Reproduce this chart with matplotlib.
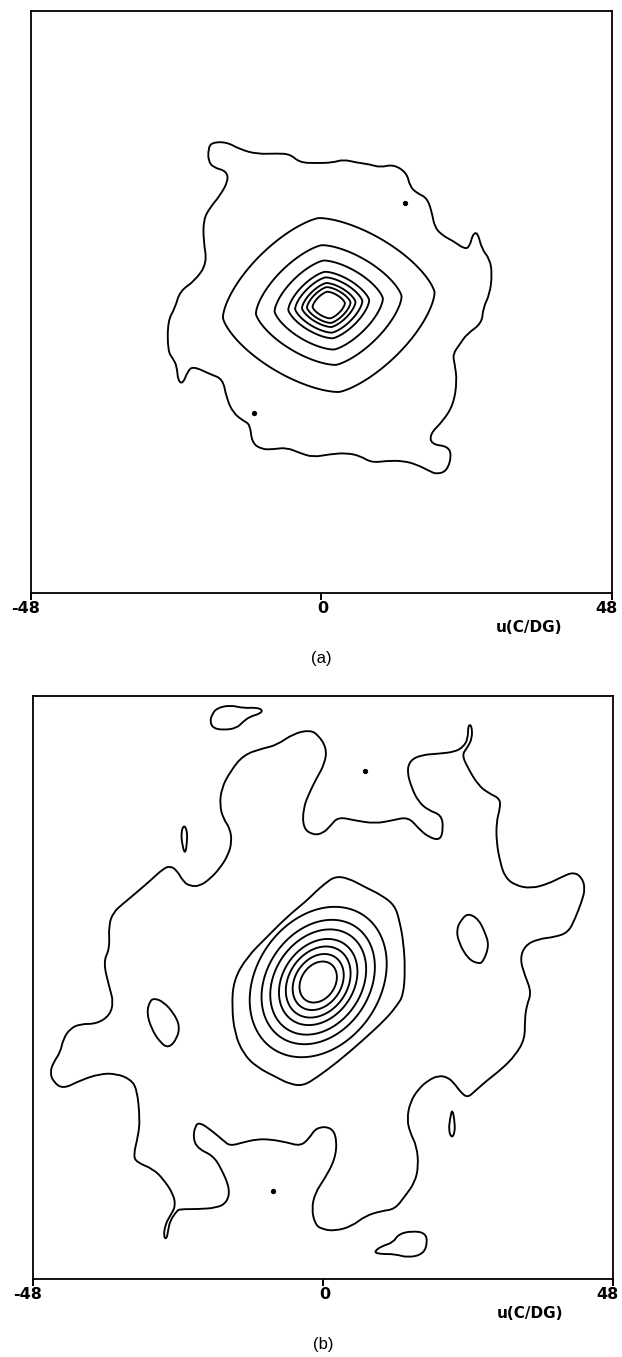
import numpy as np
import matplotlib
matplotlib.use("Agg")
import matplotlib.pyplot as plt
from matplotlib.path import Path
from matplotlib.patches import PathPatch
from matplotlib.transforms import ScaledTranslation

# both panels share the same u/v range
LIM = 48
TICKS = [-48, 0, 48]
TICK_LABELS = ["-48", "0", "48"]
AXIS_LABEL = "u(C/DG)"

# ---- panel (a) ----
# nested contours around the peak: centre and half widths along u
a_center = (1.2, -0.5)
a_radii = [2.6, 3.5, 4.3, 5.4, 6.5, 8.7, 11.7, 17.0]
# lowest contour, traced
a_outer_u = [-18.2, -15.7, -13.5, -10.7, -7.4, -5.2, -3.6, -0.8, 1.9, 3.6,
             5.8, 8.0, 9.7, 11.9, 14.1, 14.6, 15.7, 17.4, 18.2, 18.7,
             20.1, 21.7, 23.7, 24.5, 25.0, 25.8, 26.5, 27.8, 28.2, 27.8,
             26.7, 26.5, 24.0, 22.9, 21.7, 22.0, 22.4, 21.8, 20.1, 17.9,
             18.2, 20.9, 21.5, 20.7, 19.0, 17.9, 15.7, 13.5, 10.8, 8.3,
             6.4, 4.2, 1.4, -1.4, -3.6, -5.8, -8.0, -9.9, -11.5, -11.8,
             -12.9, -14.6, -15.7, -16.3, -18.4, -21.2, -22.1, -22.9, -23.7, -23.9,
             -24.5, -25.4, -25.4, -24.2, -23.4, -20.9, -18.9, -19.5, -19.5, -18.4,
             -16.8, -15.4, -15.7, -17.9, -18.7, -18.7]
a_outer_v = [26.3, 26.4, 25.2, 24.4, 24.5, 24.4, 23.0, 22.9, 23.0, 23.5,
             23.0, 22.7, 22.2, 22.7, 21.3, 19.1, 18.0, 17.2, 15.0, 12.3,
             10.9, 10.1, 8.7, 9.2, 11.2, 11.5, 8.7, 7.1, 4.6, 1.3,
             -1.0, -3.5, -5.3, -6.9, -8.6, -10.2, -13.0, -16.9, -19.6, -21.8,
             -23.5, -23.8, -25.4, -27.9, -28.4, -27.9, -26.8, -26.2, -26.2, -26.5,
             -25.4, -24.9, -25.1, -25.6, -24.9, -24.0, -24.3, -24.3, -23.2, -20.2,
             -19.6, -18.3, -15.8, -12.7, -11.9, -10.6, -11.4, -13.5, -13.0, -10.6,
             -9.4, -8.1, -3.1, -1.0, 1.8, 3.5, 6.4, 10.1, 13.6, 15.6,
             17.5, 20.0, 21.6, 22.2, 23.3, 25.2]
a_dots_u = [13.8, -11.2]
a_dots_v = [16.3, -18.3]

# ---- panel (b) ----
b_center = (-0.8, 0.9)
b_radii = [3.0, 4.1, 5.2, 6.3, 7.7, 9.1, 11.0]
# outermost closed contour of the peak, traced
b_ring_u = [-1.3, 0.3, 2.0, 4.2, 7.0, 9.7, 11.9, 12.7, 13.3, 13.6,
            13.3, 12.2, 10.5, 6.6, 2.5, -1.0, -3.3, -5.5, -7.7, -11.0,
            -13.2, -14.6, -15.1, -14.8, -12.6, -9.3, -6.0, -2.7]
b_ring_v = [15.7, 17.1, 18.3, 18.0, 16.5, 15.2, 13.5, 10.8, 7.5, 3.1,
            -1.3, -3.0, -5.1, -8.7, -12.2, -14.8, -16.2, -15.9, -14.8, -13.1,
            -10.9, -7.6, -3.2, 1.2, 5.0, 8.3, 11.6, 14.3]
# lowest contour, traced
b_outer_u = [-35.3, -36.4, -35.3, -35.5, -34.7, -33.1, -30.8, -28.6, -26.4, -25.3,
             -24.2, -23.1, -22.0, -20.4, -18.7, -17.1, -15.7, -15.1, -15.4, -16.5,
             -17.1, -16.8, -15.4, -13.2, -9.9, -7.7, -4.9, -2.2, -0.8, 0.6,
             0.3, -1.1, -2.2, -3.3, -3.3, -1.6, 0.0, 1.2, 2.5, 5.3,
             8.6, 11.4, 14.1, 15.8, 17.4, 19.4, 19.9, 19.6, 17.4, 15.8,
             14.7, 13.9, 14.4, 16.3, 19.1, 21.8, 23.2, 24.0, 24.0, 24.6,
             24.7, 23.8, 23.0, 24.0, 25.7, 27.4, 29.3, 29.3, 28.7, 28.7,
             29.3, 30.1, 31.8, 34.5, 37.3, 39.5, 41.4, 42.8, 43.4, 42.8,
             41.7, 40.6, 38.4, 35.6, 33.4, 32.6, 33.4, 34.5, 33.7, 33.4,
             33.4, 31.8, 29.6, 27.4, 25.2, 24.0, 23.0, 21.8, 20.7, 19.1,
             17.4, 15.8, 14.4, 13.9, 14.4, 15.5, 15.8, 15.2, 13.6, 11.9,
             9.7, 7.0, 4.8, 2.0, -0.2, -1.3, -1.9, -1.3, 0.2, 2.0,
             2.3, 1.4, -1.1, -2.4, -3.8, -6.0, -8.8, -11.0, -13.2, -15.4,
             -16.5, -18.4, -20.4, -21.2, -21.5, -20.6, -18.2, -16.8, -15.4, -15.9,
             -17.6, -20.9, -23.7, -24.2, -25.3, -25.6, -25.9, -26.4, -26.1, -25.3,
             -24.4, -24.8, -26.4, -28.1, -30.8, -31.4, -30.6, -30.3, -30.8, -31.9,
             -34.2, -36.9, -40.2, -43.0, -44.6, -45.2, -44.6, -43.5, -43.0, -41.9,
             -40.2, -37.5, -35.3, -34.7]
b_outer_v = [-0.2, 4.2, 6.4, 10.2, 12.4, 13.8, 15.7, 17.6, 19.6, 20.0,
             19.3, 17.4, 16.7, 16.7, 17.9, 19.6, 21.8, 24.0, 26.2, 27.8,
             30.0, 32.8, 35.5, 38.3, 39.4, 39.9, 41.8, 42.4, 41.6, 39.4,
             36.9, 34.4, 32.2, 29.5, 26.2, 25.1, 25.4, 26.6, 28.1, 27.5,
             27.0, 27.5, 28.1, 26.2, 24.8, 24.2, 26.2, 28.4, 29.2, 30.6,
             32.8, 35.5, 37.4, 38.3, 38.5, 38.8, 39.6, 41.0, 43.2, 43.2,
             41.0, 39.4, 38.3, 36.1, 33.3, 32.0, 31.1, 29.5, 27.3, 24.0,
             20.7, 18.2, 16.8, 16.3, 17.1, 18.2, 19.0, 18.2, 16.3, 14.1,
             11.3, 9.1, 8.3, 8.0, 6.9, 4.7, 2.0, -0.8, -3.0, -5.2,
             -8.5, -11.2, -13.4, -15.1, -17.0, -18.1, -17.5, -15.9, -14.8, -14.5,
             -15.3, -16.7, -18.9, -21.7, -23.9, -26.1, -29.4, -32.1, -34.3, -36.5,
             -36.8, -37.6, -39.3, -40.1, -39.8, -39.0, -36.5, -33.8, -31.6, -28.3,
             -25.0, -23.0, -23.0, -25.0, -26.1, -25.5, -25.0, -25.0, -25.5, -26.1,
             -25.2, -23.6, -22.2, -22.8, -25.0, -26.6, -27.7, -29.9, -33.2, -35.4,
             -36.3, -36.5, -36.5, -36.8, -38.4, -39.8, -41.5, -41.0, -39.0, -37.6,
             -36.0, -34.0, -31.6, -29.9, -28.8, -27.7, -24.4, -21.7, -16.7, -15.1,
             -14.2, -14.2, -15.3, -16.7, -15.6, -14.0, -12.3, -10.7, -8.5, -6.8,
             -6.0, -6.0, -4.6, -2.4]
# small closed contours
b_top_u = [-18.4, -17.6, -15.4, -13.2, -11.0, -10.0, -10.4, -12.1, -13.2, -14.3, -16.5, -18.2, -18.7]
b_top_v = [44.9, 46.0, 46.5, 46.0, 46.1, 45.7, 45.1, 44.6, 43.8, 42.7, 42.4, 42.7, 43.8]
b_thin1_u = [-23.0, -22.5, -22.5, -22.8, -23.3, -23.5]
b_thin1_v = [26.8, 25.8, 24.0, 21.9, 23.4, 25.6]
b_hole_left_u = [-27.8, -26.4, -24.8, -23.7, -24.2, -25.6, -27.0, -28.4, -29.2, -28.6]
b_hole_left_v = [-1.8, -2.4, -4.1, -6.3, -8.5, -10.0, -9.0, -6.8, -4.1, -2.1]
b_hole_right_u = [24.0, 25.7, 26.8, 27.5, 26.5, 25.7, 24.0, 22.4, 22.1, 23.0]
b_hole_right_v = [12.2, 11.3, 9.1, 6.9, 4.2, 3.9, 4.7, 7.5, 9.7, 11.3]
b_thin2_u = [21.4, 21.8, 21.8, 21.3, 20.8, 21.0]
b_thin2_v = [-19.9, -22.2, -23.9, -24.8, -23.6, -21.7]
b_bottom_u = [8.6, 9.7, 11.6, 12.5, 14.7, 16.9, 17.3, 16.6, 14.1, 11.9, 9.7, 8.7]
b_bottom_v = [-43.4, -42.6, -42.0, -40.6, -40.1, -40.4, -42.0, -43.9, -44.5, -43.9, -43.9, -43.7]
b_dots_u = [7.0, -8.2]
b_dots_v = [35.6, -33.5]

LW = 1.35


def shape_dist(X, Y, center, ang, ratio, p):
    # rotated super-ellipse distance, scaled to the half width along u
    t = np.deg2rad(ang)
    dx, dy = X - center[0], Y - center[1]
    u = dx * np.cos(t) + dy * np.sin(t)
    v = -dx * np.sin(t) + dy * np.cos(t)
    d = (np.abs(u) ** p + np.abs(v / ratio) ** p) ** (1 / p)
    d0 = (abs(np.cos(t)) ** p + abs(np.sin(t) / ratio) ** p) ** (1 / p)
    return d / d0


def loop_path(u, v):
    # closed curve through the traced points (quadratic bezier pieces)
    pts = np.column_stack([u, v])
    mids = (pts + np.roll(pts, -1, axis=0)) / 2
    verts = [mids[-1]]
    codes = [Path.MOVETO]
    for i in range(len(pts)):
        verts += [pts[i], mids[i]]
        codes += [Path.CURVE3, Path.CURVE3]
    return Path(verts, codes)


def draw_loop(ax, u, v):
    ax.add_patch(PathPatch(loop_path(u, v), fill=False, edgecolor="black",
                           lw=LW, joinstyle="round"))


def setup(ax, label):
    ax.set_xlim(-LIM, LIM)
    ax.set_ylim(-LIM, LIM)
    ax.set_xticks(TICKS)
    ax.set_yticks([])
    ax.tick_params(axis="x", direction="out", length=5, width=1.4, pad=1)
    labels = ax.set_xticklabels(TICK_LABELS, fontweight="bold", fontsize=11.5)
    # digits sit over the tick, the end label is pulled inside the page
    for lab, dx in zip(labels, [-4, 1, -4]):
        lab.set_transform(lab.get_transform()
                          + ScaledTranslation(dx / 72, 0, fig.dpi_scale_trans))
    for sp in ax.spines.values():
        sp.set_linewidth(1.3)
    ax.text(0.857, -0.060, AXIS_LABEL, transform=ax.transAxes, ha="center",
            va="center", fontweight="bold", fontsize=11)
    ax.text(0.5, -0.112, label, transform=ax.transAxes, ha="center",
            va="center", fontsize=12, family="Liberation Sans")


grid = np.linspace(-LIM, LIM, 601)
X, Y = np.meshgrid(grid, grid)

fig = plt.figure(figsize=(6.22, 13.57), dpi=100)
ax_a = fig.add_axes([0.0498, 0.5630, 0.9341, 0.4289])
ax_b = fig.add_axes([0.0531, 0.0575, 0.9325, 0.4296])

# (a)
setup(ax_a, "(a)")
fa = shape_dist(X, Y, a_center, 7, 0.82, 1.45)
ax_a.contour(X, Y, fa, levels=a_radii, colors="black", linewidths=LW)
draw_loop(ax_a, a_outer_u, a_outer_v)
ax_a.plot(a_dots_u, a_dots_v, "o", color="black", ms=2.8)

# (b)
setup(ax_b, "(b)")
fb = shape_dist(X, Y, b_center, 55, 1 / 1.3, 2.0)
ax_b.contour(X, Y, fb, levels=b_radii, colors="black", linewidths=LW)
for cu, cv in [(b_ring_u, b_ring_v), (b_outer_u, b_outer_v), (b_top_u, b_top_v),
               (b_thin1_u, b_thin1_v), (b_hole_left_u, b_hole_left_v),
               (b_hole_right_u, b_hole_right_v), (b_thin2_u, b_thin2_v),
               (b_bottom_u, b_bottom_v)]:
    draw_loop(ax_b, cu, cv)
ax_b.plot(b_dots_u, b_dots_v, "o", color="black", ms=2.8)

fig.savefig("out.png", dpi=100, facecolor="white")
